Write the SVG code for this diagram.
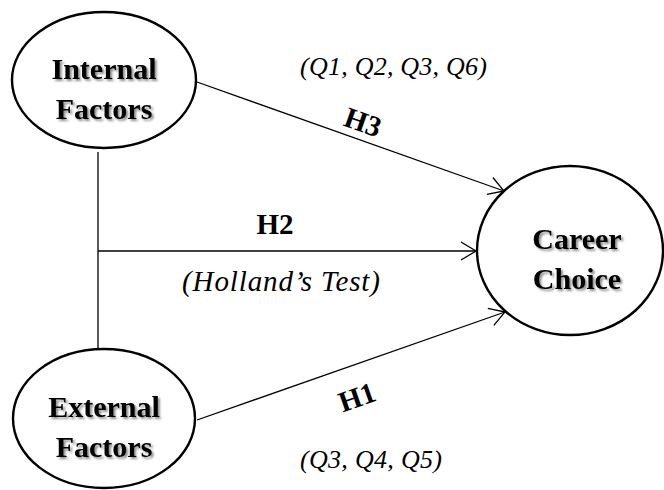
<svg xmlns="http://www.w3.org/2000/svg" width="664" height="490" viewBox="0 0 664 490">
<style>
  .node { fill: #fff; stroke: #000; stroke-width: 2.4; }
  .name { font-family: "Liberation Serif", "Times New Roman", serif; font-weight: bold; font-size: 30px; fill: #000; text-anchor: middle; filter: url(#shadow); }
  .conn { fill: none; stroke: #000; stroke-width: 1.3; }
  .hyp { font-family: "Liberation Serif", "Times New Roman", serif; font-weight: bold; font-size: 29px; fill: #000; text-anchor: middle; }
  .note { font-family: "Liberation Serif", "Times New Roman", serif; font-style: italic; fill: #000; }
</style>
<defs>
  <filter id="shadow" x="-10%" y="-20%" width="130%" height="150%">
    <feDropShadow dx="2" dy="2" stdDeviation="1.2" flood-color="#000" flood-opacity="0.45"/>
  </filter>
  <marker id="arrow" markerUnits="userSpaceOnUse" markerWidth="20" markerHeight="22" viewBox="0 0 20 22" refX="17" refY="11" orient="auto">
    <path d="M2,2 L17,11 L2,20" fill="none" stroke="#000" stroke-width="1.3"/>
  </marker>
</defs>
<rect width="664" height="490" fill="#fff"/>

<g id="connectors">
  <line class="conn" x1="98" y1="152" x2="98" y2="349"/>
  <line class="conn" x1="197" y1="82" x2="504" y2="191" marker-end="url(#arrow)"/>
  <line class="conn" x1="98" y1="251" x2="476" y2="251" marker-end="url(#arrow)"/>
  <line class="conn" x1="197" y1="420" x2="505" y2="312" marker-end="url(#arrow)"/>
</g>

<g id="labels">
  <text class="note" x="300" y="75" font-size="26" textLength="187" lengthAdjust="spacing">(Q1, Q2, Q3, Q6)</text>
  <text class="hyp" transform="translate(363,122) rotate(19.5)" x="0" y="10">H3</text>
  <text class="hyp" x="275" y="234">H2</text>
  <text class="note" x="182" y="291" font-size="29" textLength="198" lengthAdjust="spacing">(Holland’s Test)</text>
  <text class="hyp" transform="translate(357,397) rotate(-19.3)" x="0" y="10">H1</text>
  <text class="note" x="300" y="468" font-size="26" textLength="142" lengthAdjust="spacing">(Q3, Q4, Q5)</text>
</g>

<g id="internal">
  <ellipse class="node" cx="104" cy="80" rx="92" ry="68"/>
  <text class="name" x="104" y="79">Internal</text>
  <text class="name" x="104" y="119">Factors</text>
</g>

<g id="external">
  <ellipse class="node" cx="104" cy="418.5" rx="91" ry="69.5"/>
  <text class="name" x="104" y="417">External</text>
  <text class="name" x="104" y="457">Factors</text>
</g>

<g id="career">
  <ellipse class="node" cx="570" cy="250.5" rx="93" ry="84.5"/>
  <text class="name" x="577" y="249">Career</text>
  <text class="name" x="577" y="289">Choice</text>
</g>
</svg>
